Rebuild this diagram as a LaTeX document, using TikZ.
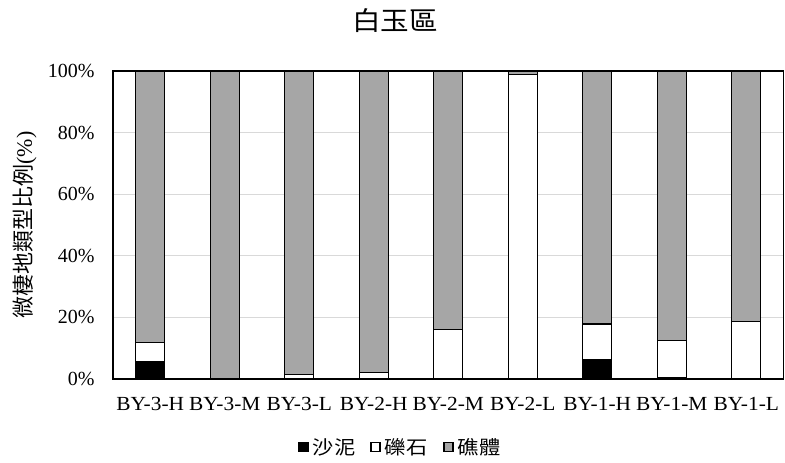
\documentclass[tikz,border=0pt]{standalone}
\usepackage{fontspec}
\setmainfont{Liberation Serif}
\newfontfamily\cjk{Noto Sans CJK TC}
\usetikzlibrary{positioning}
\definecolor{reefgray}{RGB}{166,166,166}
\definecolor{gridgray}{RGB}{217,217,217}

\begin{document}
\begin{tikzpicture}[x=1pt,y=-1pt,
            bar/.style={draw=black,line width=1.3pt},
            legbox/.style={draw=black,line width=1.2pt,minimum size=9pt,inner sep=0pt},
            legtext/.style={inner sep=0pt,xscale=1.12,font=\cjk\fontsize{19}{22}\selectfont},
            ticklab/.style={font=\fontsize{20}{24}\selectfont}]
            \useasboundingbox (0,0) rectangle (785,463);
            % grid and y axis
            \foreach \p in {20,40,60,80}
                \draw[gridgray,line width=1pt] (113,{379-3.08*\p}) -- (783.5,{379-3.08*\p});
            \foreach \p in {0,20,...,100}
                \node[ticklab,anchor=east] (t\p) at (98,{379-3.08*\p}) {\p\%};
            % bars: mud, gravel, reef on top
            \foreach \i/\m/\g/\name in {1/5.5/6.3/BY-3-H,2/0/0/BY-3-M,3/0/1.5/BY-3-L,
                    4/0/2.1/BY-2-H,5/0/16/BY-2-M,6/0/98.8/BY-2-L,
                    7/6.3/11.6/BY-1-H,8/0.6/11.9/BY-1-M,9/0/18.6/BY-1-L}{
                \pgfmathsetmacro\c{113+74.5*(\i-0.5)}
                \pgfmathsetmacro\ym{379-3.08*\m}
                \pgfmathsetmacro\yg{379-3.08*(\m+\g)}
                \draw[bar,fill=black] (\c-14.5,379) rectangle (\c+14.5,\ym);
                \draw[bar,fill=white] (\c-14.5,\ym) rectangle (\c+14.5,\yg);
                \draw[bar,fill=reefgray] (\c-14.5,\yg) rectangle (\c+14.5,71);
                \node[ticklab,xscale=1.07] (x\i) at (\c,404) {\name};
            }
            \draw[line width=1.3pt] (113,71) rectangle (783.5,379);
            \node[font=\cjk\fontsize{26}{30}\selectfont,xscale=1.1] (title) at (395,21) {白玉區};
            \node[rotate=90,font=\fontsize{22}{26}\selectfont] (ylab) at (25,225) {{\cjk 微棲地類型比例}(\%)};
            % legend
            \node[legbox,fill=black] (kmud) at (303.5,447) {};
            \node[legtext,right=4pt of kmud] (lmud) {沙泥};
            \node[legbox,fill=white] (kgravel) at (375.5,447) {};
            \node[legtext,right=4pt of kgravel] (lgravel) {礫石};
            \node[legbox,fill=reefgray] (kreef) at (448.5,447) {};
            \node[legtext,right=4pt of kreef] (lreef) {礁體};
        \end{tikzpicture}
\end{document}
